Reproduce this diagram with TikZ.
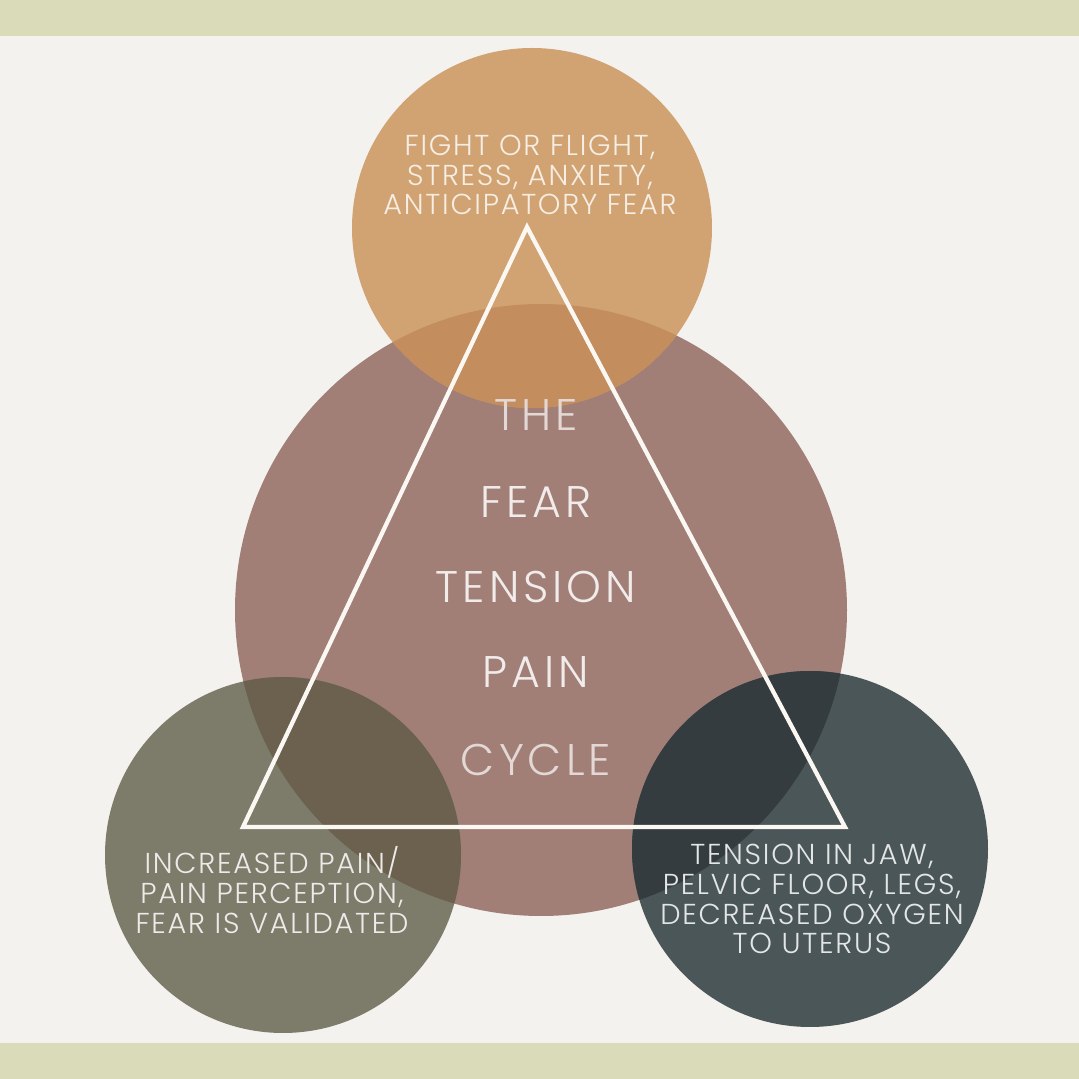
\documentclass[tikz,border=0pt]{standalone}
\usepackage{fontspec}
\usepackage{xcolor}
\usepackage{tikz}
\usetikzlibrary{calc}
\newfontfamily\thinfont{Poppins Light}[LetterSpace=6]
\newfontfamily\widefont{Poppins Light}[LetterSpace=9]
\definecolor{paper}{HTML}{F4F2EE}
\definecolor{band}{HTML}{DADBB8}
\definecolor{fearorange}{HTML}{D1A372}
\definecolor{cyclemauve}{HTML}{A17F77}
\definecolor{painolive}{HTML}{7D7C6A}
\definecolor{tenseslate}{HTML}{4A5658}
\definecolor{mixtop}{HTML}{C38D5D}
\definecolor{mixleft}{HTML}{6B614E}
\definecolor{mixright}{HTML}{343C3F}
\tikzset{ bubble/.style = {circle, inner sep=0pt, minimum size=#1} }
\tikzset{ side_txt/.style = {align=center, font=\thinfont\fontsize{8.2}{8.5}\selectfont} }
\tikzset{ word/.style = {font=\widefont\fontsize{12.6}{13}\selectfont, text=#1} }

\begin{document}
\begin{tikzpicture}
        \useasboundingbox (0,0) rectangle (10.79,10.79);
        \fill[paper] (0,0) rectangle (10.79,10.79);
        \fill[band] (0,10.43) rectangle (10.79,10.79);
        \fill[band] (0,0) rectangle (10.79,0.36);
        % circles
        \node[bubble=6.12cm, fill=cyclemauve] (cycle) at (5.41,4.69) {};
        \node[bubble=3.60cm, fill=fearorange] (fear) at (5.32,8.51) {};
        \node[bubble=3.56cm, fill=painolive] (pain) at (2.83,2.24) {};
        \node[bubble=3.56cm, fill=tenseslate] (tense) at (8.10,2.30) {};
        \begin{scope}
                \clip (cycle.center) circle (3.06);
                \fill[mixtop] (fear.center) circle (1.80);
                \fill[mixleft] (pain.center) circle (1.78);
                \fill[mixright] (tense.center) circle (1.78);
        \end{scope}
        % triangle
        \coordinate (top) at (5.27,8.52);
        \coordinate (left) at (2.43,2.52);
        \coordinate (right) at (8.45,2.52);
        \draw[white!92!fearorange, line width=1.2pt, line join=miter] (top) -- (left) -- (right) -- cycle;
        % texts
        \node[side_txt, text=white!80!fearorange] (fear_txt) at (5.30,9.04) {FIGHT OR FLIGHT,\\STRESS, ANXIETY,\\ANTICIPATORY FEAR};
        \node[side_txt, text=white!85!painolive] (pain_txt) at (2.72,1.89) {INCREASED PAIN/\\PAIN PERCEPTION,\\FEAR IS VALIDATED};
        \node[side_txt, text=white!85!tenseslate] (tense_txt) at (8.12,1.80) {TENSION IN JAW,\\PELVIC FLOOR, LEGS,\\DECREASED OXYGEN\\TO UTERUS};
        \node[word=white!70!cyclemauve] (the) at (5.36,6.64) {THE};
        \node[word=white!85!cyclemauve] (w_fear) at (5.36,5.77) {FEAR};
        \node[word=white!85!cyclemauve] (w_tension) at (5.36,4.92) {TENSION};
        \node[word=white!85!cyclemauve] (w_pain) at (5.36,4.07) {PAIN};
        \node[word=white!70!cyclemauve] (w_cycle) at (5.36,3.19) {CYCLE};
\end{tikzpicture}
\end{document}
